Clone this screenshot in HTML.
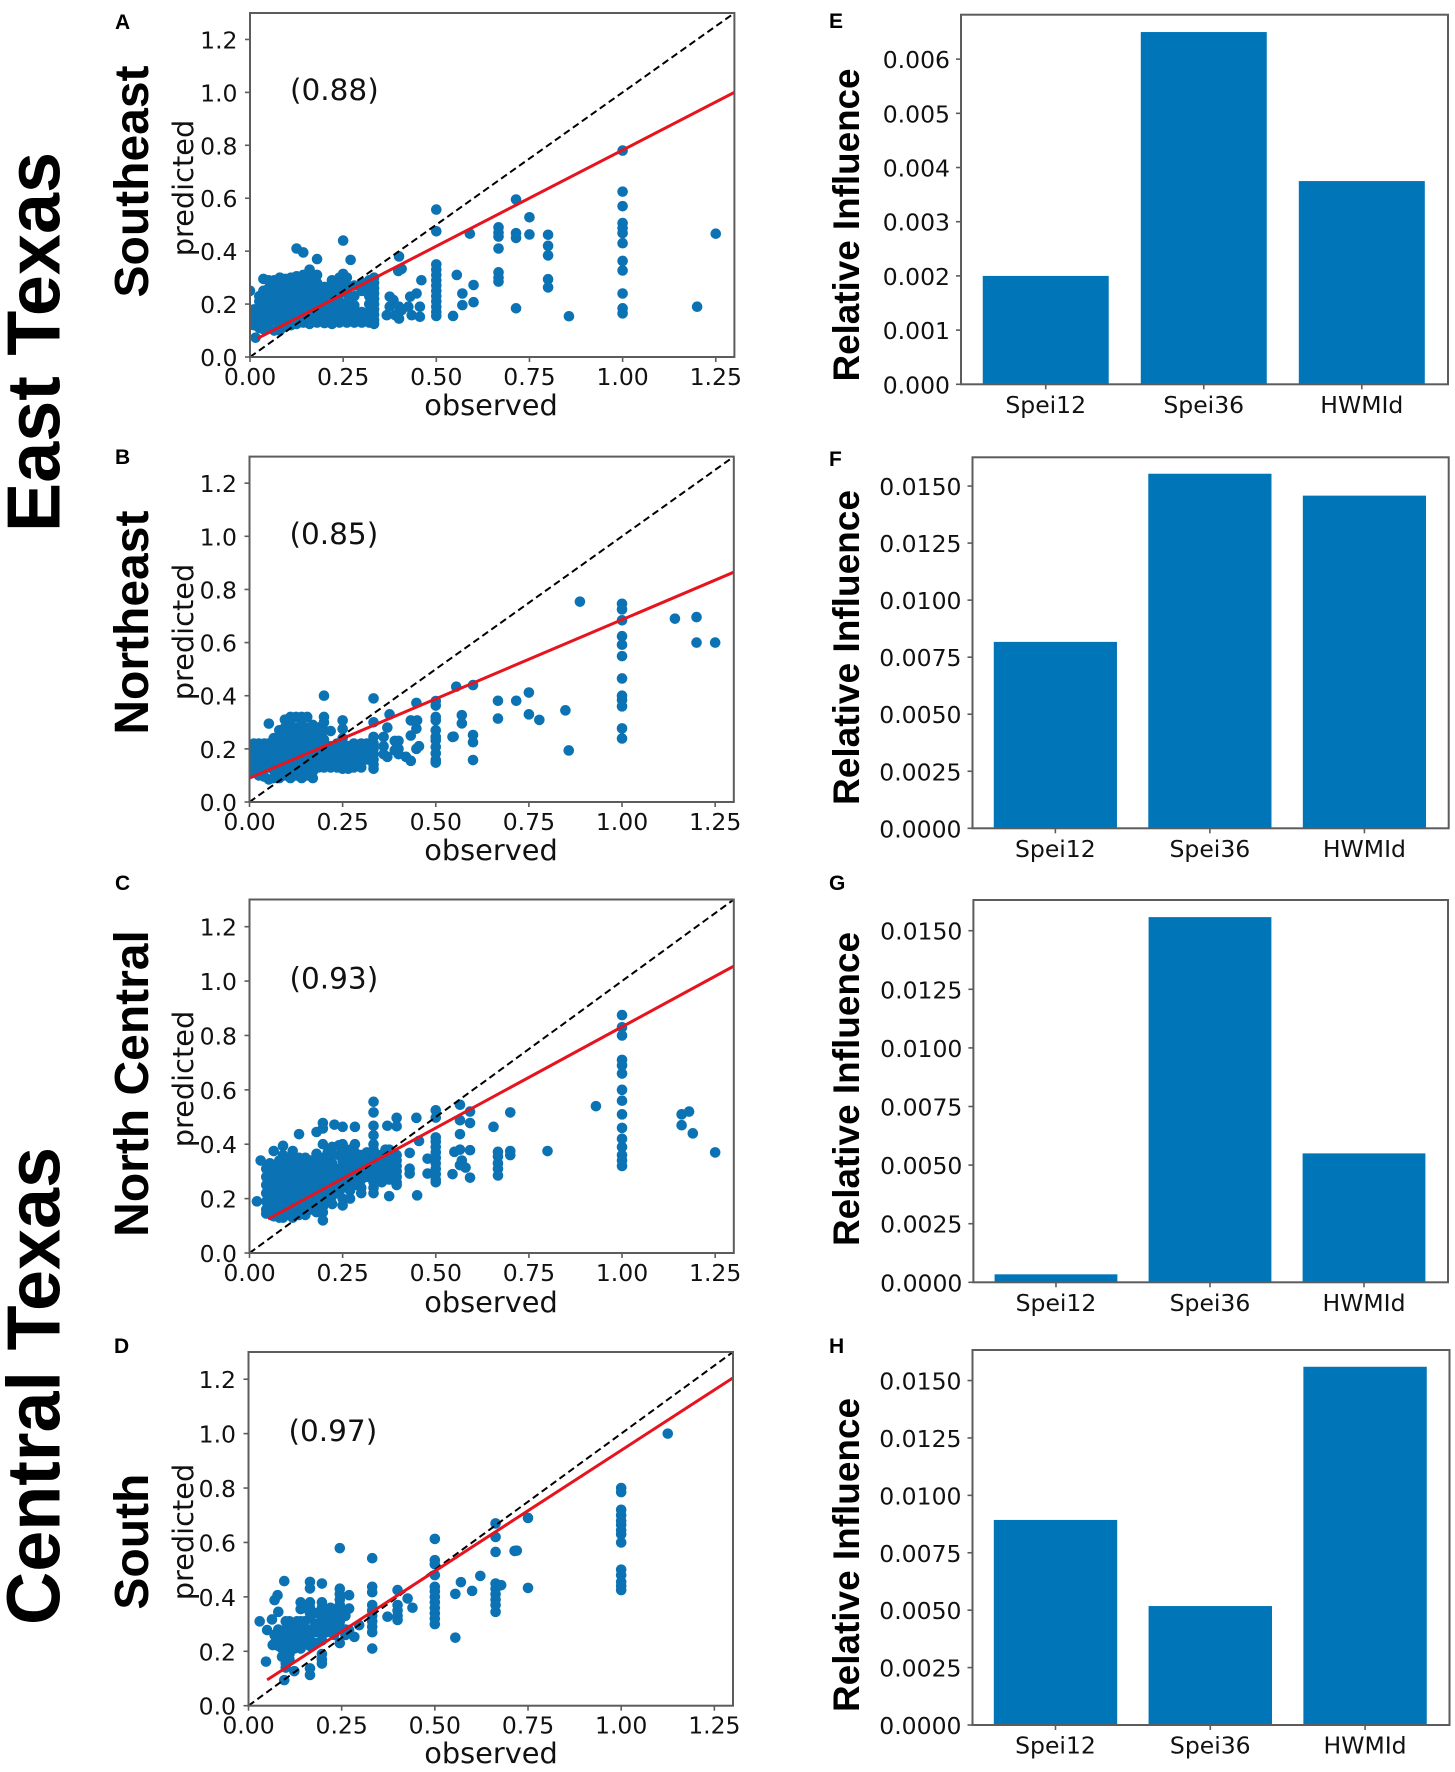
<!DOCTYPE html>
<html lang="en">
<head>
<meta charset="utf-8">
<title>Observed vs predicted and relative influence by Texas region</title>
<style>
html,body{margin:0;padding:0;background:#fff;}
svg{display:block;}
.region{font-family:"Liberation Sans",Arial,sans-serif;font-weight:700;fill:#000;}
.letter{font-family:"Liberation Sans",Arial,sans-serif;font-weight:700;font-size:21px;fill:#000;}
.axis-title{font-family:"DejaVu Sans",sans-serif;font-size:28.8px;fill:#111;}
.tick{font-family:"DejaVu Sans",sans-serif;font-size:23.5px;fill:#111;}
.note{font-family:"DejaVu Sans",sans-serif;font-size:29.5px;fill:#111;}
</style>
</head>
<body>
<svg id="fig" xmlns="http://www.w3.org/2000/svg" width="1455" height="1772" viewBox="0 0 1455 1772">
<rect x="0" y="0" width="1455" height="1772" fill="#fff"/>

<text class="region" font-size="75" transform="translate(59.5,342) rotate(-90)" text-anchor="middle" textLength="380" lengthAdjust="spacingAndGlyphs">East Texas</text>
<text class="region" font-size="75" transform="translate(59.5,1386) rotate(-90)" text-anchor="middle" textLength="478" lengthAdjust="spacingAndGlyphs">Central Texas</text>

<text class="region" font-size="48" transform="translate(148,181.5) rotate(-90)" text-anchor="middle">Southeast</text>
<text class="region" font-size="48" transform="translate(148,622.6) rotate(-90)" text-anchor="middle">Northeast</text>
<text class="region" font-size="48" transform="translate(148,1083.5) rotate(-90)" text-anchor="middle">North Central</text>
<text class="region" font-size="48" transform="translate(148,1541.6) rotate(-90)" text-anchor="middle">South</text>

<text class="letter" x="115" y="29">A</text>
<text class="letter" x="115" y="464">B</text>
<text class="letter" x="115" y="890">C</text>
<text class="letter" x="114" y="1353">D</text>
<text class="letter" x="829" y="28">E</text>
<text class="letter" x="829" y="466">F</text>
<text class="letter" x="829" y="890">G</text>
<text class="letter" x="829" y="1353">H</text>

<text class="axis-title" x="491" y="415" text-anchor="middle">observed</text>
<text class="axis-title" x="491" y="860" text-anchor="middle">observed</text>
<text class="axis-title" x="491" y="1312" text-anchor="middle">observed</text>
<text class="axis-title" x="491" y="1763" text-anchor="middle">observed</text>

<text class="axis-title" transform="translate(193,188) rotate(-90)" text-anchor="middle">predicted</text>
<text class="axis-title" transform="translate(193,632) rotate(-90)" text-anchor="middle">predicted</text>
<text class="axis-title" transform="translate(193,1079) rotate(-90)" text-anchor="middle">predicted</text>
<text class="axis-title" transform="translate(193,1532) rotate(-90)" text-anchor="middle">predicted</text>

<text class="region" font-size="37" transform="translate(859,225) rotate(-90)" text-anchor="middle" textLength="313" lengthAdjust="spacingAndGlyphs">Relative Influence</text>
<text class="region" font-size="37" transform="translate(859,647.5) rotate(-90)" text-anchor="middle" textLength="315" lengthAdjust="spacingAndGlyphs">Relative Influence</text>
<text class="region" font-size="37" transform="translate(859,1089) rotate(-90)" text-anchor="middle" textLength="314" lengthAdjust="spacingAndGlyphs">Relative Influence</text>
<text class="region" font-size="37" transform="translate(859,1555) rotate(-90)" text-anchor="middle" textLength="314" lengthAdjust="spacingAndGlyphs">Relative Influence</text>
</svg>

<script>
// ---------- shared tick data ----------
const scatterXTicks = [0, 0.25, 0.5, 0.75, 1.0, 1.25];
const scatterXLabels = ['0.00', '0.25', '0.50', '0.75', '1.00', '1.25'];
const scatterYTicks = [0, 0.2, 0.4, 0.6, 0.8, 1.0, 1.2];
const scatterYLabels = ['0.0', '0.2', '0.4', '0.6', '0.8', '1.0', '1.2'];
const barCategories = ['Spei12', 'Spei36', 'HWMId'];
const influenceTicksE = [0, 0.001, 0.002, 0.003, 0.004, 0.005, 0.006];
const influenceLabelsE = ['0.000', '0.001', '0.002', '0.003', '0.004', '0.005', '0.006'];
const influenceTicks = [0, 0.0025, 0.005, 0.0075, 0.01, 0.0125, 0.015];
const influenceLabels = ['0.0000', '0.0025', '0.0050', '0.0075', '0.0100', '0.0125', '0.0150'];

// ---------- bar values ----------
const influenceE = [0.0020, 0.0065, 0.00375];
const influenceF = [0.00817, 0.01554, 0.01458];
const influenceG = [0.00034, 0.01558, 0.0055];
const influenceH = [0.00893, 0.00518, 0.0156];

// ---------- regression fit end points ----------
const fitObsA = [0.02, 1.3];
const fitPredA = [0.07, 1.0];
const fitObsB = [0.0, 1.3];
const fitPredB = [0.09, 0.865];
const fitObsC = [0.05, 1.3];
const fitPredC = [0.125, 1.055];
const fitObsD = [0.05, 1.3];
const fitPredD = [0.095, 1.205];

// ---------- correlation notes ----------
const noteA = '(0.88)';
const noteB = '(0.85)';
const noteC = '(0.93)';
const noteD = '(0.97)';

// ---------- panel A scatter ----------
const obsA = [0, 0.01, 0.015, 0.025, 0.036, 0.05, 0.065, 0.08, 0.095, 0.11, 0.125, 0.143, 0.16, 0.18, 0.2, 0.22, 0.24, 0.25, 0.26, 0.27, 0.28, 0.3, 0.32, 0.333, 0.367, 0.375, 0.385, 0.39, 0.398, 0.4, 0.407, 0.425, 0.43, 0.434, 0.447, 0.456, 0.46, 0.5, 0.545, 0.555, 0.57, 0.59, 0.6, 0.667, 0.714, 0.75, 0.8, 0.856, 1.0, 1.2, 1.25];
const predA = [
[0.25,0.17,0.15,0.13],[0.18,0.16,0.14,0.12],[0.073],[0.23,0.21,0.19,0.17,0.15,0.13,0.11],
[0.295,0.25,0.22,0.19,0.16,0.13,0.105],[0.29,0.26,0.23,0.2,0.17,0.14,0.11],[0.29,0.26,0.23,0.2,0.17,0.14,0.1],
[0.3,0.27,0.24,0.21,0.18,0.15,0.12,0.1],[0.295,0.265,0.235,0.205,0.175,0.145,0.115],[0.3,0.27,0.24,0.21,0.18,0.15,0.12],
[0.41,0.305,0.275,0.245,0.215,0.185,0.155,0.125],[0.395,0.31,0.28,0.25,0.22,0.19,0.16,0.13],[0.33,0.3,0.27,0.24,0.21,0.18,0.15,0.125],
[0.37,0.31,0.28,0.25,0.22,0.19,0.16,0.13],[0.265,0.235,0.205,0.175,0.145,0.128],[0.29,0.26,0.23,0.2,0.17,0.14,0.125],
[0.3,0.27,0.24,0.21,0.18,0.15,0.13],[0.44,0.314],[0.3,0.27,0.24,0.205,0.175,0.145,0.13],[0.367],
[0.27,0.23,0.195,0.165,0.14,0.13],[0.28,0.25,0.17,0.15,0.13],[0.29,0.26,0.23,0.2,0.17,0.14,0.13],
[0.3,0.28,0.26,0.24,0.22,0.2,0.18,0.16,0.14,0.125],[0.158],[0.228,0.19],[0.215],[0.158],[0.325],[0.38,0.19,0.145],[0.333,0.177],
[0.19],[0.228],[0.158],[0.24],[0.19,0.152],[0.29],
[0.557,0.475,0.35,0.33,0.31,0.29,0.27,0.25,0.23,0.21,0.19,0.17,0.155],[0.155],[0.31],[0.24,0.196],[0.466],[0.272,0.207],
[0.49,0.47,0.455,0.41,0.32,0.3,0.285],[0.595,0.468,0.45,0.184],[0.528,0.463],[0.462,0.42,0.384,0.294,0.263],[0.154],
[0.78,0.625,0.57,0.506,0.487,0.468,0.43,0.363,0.327,0.24,0.184,0.165],[0.19],[0.466]
];

// ---------- panel B scatter ----------
const obsB = [0, 0.012, 0.025, 0.04, 0.052, 0.065, 0.08, 0.095, 0.11, 0.125, 0.14, 0.155, 0.17, 0.185, 0.2, 0.218, 0.235, 0.25, 0.265, 0.28, 0.3, 0.315, 0.333, 0.36, 0.37, 0.376, 0.39, 0.4, 0.42, 0.433, 0.448, 0.45, 0.455, 0.5, 0.545, 0.548, 0.555, 0.57, 0.6, 0.667, 0.716, 0.75, 0.778, 0.848, 0.857, 0.887, 1.0, 1.142, 1.2, 1.25];
const predB = [
[0.21,0.19,0.17,0.15,0.13,0.11],[0.22,0.19,0.16,0.13,0.11],[0.22,0.19,0.16,0.13,0.1],[0.22,0.19,0.16,0.13,0.095],
[0.295,0.22,0.19,0.16,0.13,0.085],[0.24,0.21,0.18,0.15,0.12,0.09],[0.27,0.24,0.21,0.18,0.15,0.12,0.09],
[0.31,0.28,0.25,0.22,0.19,0.16,0.13,0.1],[0.32,0.29,0.26,0.23,0.2,0.17,0.14,0.11,0.09],[0.32,0.28,0.25,0.22,0.19,0.16,0.13,0.1],
[0.32,0.29,0.26,0.23,0.2,0.17,0.14,0.11,0.09],[0.32,0.28,0.25,0.22,0.19,0.16,0.13,0.1],[0.29,0.26,0.23,0.2,0.17,0.14,0.115,0.09],
[0.28,0.25,0.22,0.19,0.16,0.13],[0.4,0.32,0.3,0.27,0.235,0.21,0.18,0.15,0.13],[0.267,0.21,0.18,0.15,0.13],[0.22,0.19,0.16,0.13],
[0.307,0.275,0.24,0.21,0.18,0.15,0.125],[0.21,0.18,0.15,0.125],[0.22,0.19,0.16,0.13],[0.22,0.19,0.16,0.13],[0.22,0.19,0.16],
[0.39,0.3,0.245,0.22,0.2,0.18,0.16,0.14,0.125],[0.245,0.21,0.18],[0.28,0.17],[0.33],[0.23,0.195],[0.23,0.2,0.18],[0.17],
[0.307,0.25,0.155],[0.373,0.276,0.2],[0.307],[0.21],
[0.38,0.363,0.32,0.307,0.27,0.245,0.232,0.207,0.183,0.158,0.148],[0.245],[0.246],[0.434],[0.327,0.296],[0.44,0.252,0.225,0.158],
[0.381,0.314],[0.381],[0.412,0.33],[0.309],[0.345],[0.194],[0.754],
[0.746,0.725,0.684,0.624,0.592,0.549,0.465,0.4,0.384,0.36,0.277,0.239],[0.69],[0.696,0.6],[0.6]
];

// ---------- panel C scatter ----------
const obsC = [0.02, 0.03, 0.045, 0.055, 0.065, 0.08, 0.09, 0.105, 0.116, 0.133, 0.15, 0.165, 0.18, 0.197, 0.21, 0.222, 0.228, 0.24, 0.25, 0.26, 0.27, 0.283, 0.3, 0.315, 0.333, 0.345, 0.355, 0.365, 0.37, 0.375, 0.385, 0.395, 0.43, 0.448, 0.45, 0.455, 0.478, 0.5, 0.545, 0.55, 0.565, 0.57, 0.58, 0.592, 0.655, 0.667, 0.7, 0.8, 0.93, 1.0, 1.16, 1.18, 1.19, 1.25];
const predC = [
[0.19],[0.34],[0.31,0.28,0.25,0.22,0.19,0.16,0.145],[0.33,0.3,0.27,0.24,0.21,0.18,0.15],[0.375,0.31,0.28,0.25,0.22,0.19,0.16,0.135],
[0.34,0.31,0.28,0.25,0.22,0.19,0.16,0.13],[0.394,0.36,0.33,0.3,0.27,0.24,0.21,0.18,0.15,0.13],[0.35,0.32,0.29,0.26,0.23,0.2,0.17,0.14],
[0.375,0.34,0.31,0.28,0.25,0.22,0.19,0.16,0.13],[0.437,0.35,0.32,0.29,0.26,0.23,0.2,0.17,0.14],[0.35,0.32,0.29,0.26,0.23,0.2,0.17,0.14],
[0.34,0.31,0.28,0.25,0.22,0.19,0.16],[0.445,0.365,0.33,0.3,0.27,0.24,0.21,0.18,0.15],
[0.478,0.458,0.4,0.35,0.32,0.29,0.26,0.23,0.2,0.17,0.15,0.12],[0.37,0.34,0.31,0.28,0.25,0.22,0.19],[0.39,0.36,0.33,0.3,0.27,0.24,0.21,0.18],[0.472],
[0.396,0.36,0.31,0.28,0.25,0.22],[0.464,0.4,0.37,0.34,0.3,0.27,0.24,0.2,0.175],[0.36,0.33,0.3,0.27,0.24],[0.38,0.33,0.29,0.26,0.23,0.2],
[0.464,0.4,0.37,0.34,0.31,0.28,0.25],[0.36,0.33,0.3,0.27,0.24,0.22],[0.37,0.34,0.31,0.28],
[0.556,0.517,0.468,0.433,0.4,0.38,0.36,0.34,0.32,0.3,0.28,0.26,0.24,0.22],[0.36,0.33],[0.36,0.33,0.3,0.28,0.26],[0.38,0.31,0.28],[0.468],[0.38,0.35,0.32,0.29,0.27,0.209],[0.36,0.3,0.27],
[0.497,0.466,0.36,0.34,0.32,0.3,0.28,0.26,0.25],[0.368,0.31,0.292],[0.497],[0.212],[0.412],[0.347,0.292],
[0.525,0.498,0.425,0.41,0.39,0.37,0.35,0.33,0.31,0.29,0.27,0.26],[0.29],[0.372],[0.545,0.488,0.437,0.38,0.323],[0.34],[0.314],
[0.52,0.478,0.378,0.277],[0.464],[0.372,0.355,0.33,0.31,0.285],[0.517,0.375,0.36],[0.375],[0.54],
[0.875,0.83,0.8,0.71,0.69,0.66,0.6,0.56,0.51,0.46,0.42,0.39,0.36,0.34,0.32],[0.51,0.47],[0.52],[0.44],[0.37]
];

// ---------- panel D scatter ----------
const obsD = [0.03, 0.047, 0.05, 0.063, 0.065, 0.07, 0.078, 0.08, 0.085, 0.09, 0.096, 0.1, 0.105, 0.11, 0.115, 0.123, 0.13, 0.14, 0.15, 0.165, 0.18, 0.197, 0.21, 0.22, 0.23, 0.245, 0.26, 0.27, 0.284, 0.297, 0.332, 0.373, 0.4, 0.427, 0.44, 0.5, 0.555, 0.57, 0.6, 0.622, 0.663, 0.678, 0.714, 0.72, 0.75, 1.0, 1.125];
const predD = [
[0.31],[0.162],[0.278],[0.317],[0.223],[0.388,0.26,0.23],[0.406],[0.345,0.28,0.25,0.22],[0.27,0.24],[0.26,0.24,0.21,0.18],[0.458,0.094],
[0.31,0.28,0.26,0.24,0.2,0.18,0.155,0.14],[0.3,0.25,0.22],[0.31,0.29,0.27,0.25,0.21,0.19,0.17],[0.29,0.26,0.23],[0.3,0.27,0.25,0.23,0.21,0.127],[0.31,0.28,0.24],[0.38,0.355,0.31,0.29,0.27,0.25,0.23,0.21],[0.36,0.31,0.27,0.24],
[0.455,0.431,0.38,0.36,0.34,0.32,0.28,0.26,0.24,0.22,0.137,0.113],[0.34,0.3,0.27,0.23],[0.449,0.38,0.36,0.34,0.32,0.3,0.28,0.26,0.24,0.19,0.17,0.155],[0.35,0.31,0.27],[0.36,0.33,0.31,0.29],[0.33,0.29,0.26],
[0.579,0.43,0.41,0.39,0.37,0.35,0.33,0.31,0.29,0.23],[0.33,0.28,0.26],[0.406,0.357,0.278],[0.253],[0.296],
[0.542,0.437,0.417,0.37,0.35,0.33,0.31,0.29,0.27,0.21],[0.327],[0.425,0.37,0.35,0.33,0.315],[0.394],[0.36],
[0.613,0.535,0.52,0.48,0.437,0.42,0.4,0.38,0.36,0.34,0.32,0.3],[0.411,0.25],[0.454],[0.422],[0.477],
[0.67,0.62,0.565,0.449,0.43,0.41,0.39,0.37,0.345],[0.443],[0.569],[0.57],[0.69,0.433],
[0.8,0.785,0.72,0.7,0.68,0.665,0.645,0.63,0.6,0.5,0.48,0.455,0.44,0.425],[1.0]
];

// ---------- drawing ----------
const NS = 'http://www.w3.org/2000/svg';
const svg = document.getElementById('fig');
const FRAME = '#5c5c5c';
const DOT = '#0b72b4';
const BAR = '#0075b7';
function linear(d0, d1, r0, r1) {
  return function (v) { return r0 + (v - d0) * (r1 - r0) / (d1 - d0); };
}
function make(parent, tag, attrs) {
  const el = document.createElementNS(NS, tag);
  for (const k in attrs) el.setAttribute(k, attrs[k]);
  parent.appendChild(el);
  return el;
}
function drawFrame(g, box) {
  const frame = make(g, 'rect', {x: box.left, y: box.top, width: box.right - box.left, height: box.bottom - box.top, fill: 'none', stroke: FRAME, 'stroke-width': 2});
  
  
}
function drawYAxis(g, box, y, ticks, labels) {
  ticks.forEach(function (t, i) {
    const py = y(t);
    const tick = make(g, 'line', {x1: box.left - 5, x2: box.left, y1: py, y2: py, stroke: FRAME, 'stroke-width': 1.6});
    
    
    const label = make(g, 'text', {x: box.left - box.labelGap, y: py + box.labelDrop, 'text-anchor': 'end', class: 'tick'});
    label.textContent = labels[i];
    
    
  });
}
function drawScatter(id, box, obs, pred, fitObs, fitPred, note) {
  const x = linear(0, 1.3, box.left, box.right);
  const y = linear(0, 1.3, box.bottom, box.top);
  const g = make(svg, 'g', {});
  
  
  const clip = make(g, 'clipPath', {id: 'clip-' + id});
  make(clip, 'rect', {x: box.left, y: box.top, width: box.right - box.left, height: box.bottom - box.top});
  const plot = make(g, 'g', {'clip-path': 'url(#clip-' + id + ')'});
  
  
  obs.forEach(function (o, i) {
    pred[i].forEach(function (p) {
      const dot = make(plot, 'circle', {cx: x(o), cy: y(p), r: 5.3, fill: DOT});
      
      
    });
  });
  const identity = make(plot, 'line', {x1: x(0), y1: y(0), x2: x(1.3), y2: y(1.3), stroke: '#000', 'stroke-width': 2, 'stroke-dasharray': '7 4'});
  
  
  const fit = make(plot, 'line', {x1: x(fitObs[0]), y1: y(fitPred[0]), x2: x(fitObs[1]), y2: y(fitPred[1]), stroke: '#e6141e', 'stroke-width': 3});
  
  
  drawFrame(g, box);
  scatterXTicks.forEach(function (t, i) {
    const px = x(t);
    const tick = make(g, 'line', {x1: px, x2: px, y1: box.bottom, y2: box.bottom + 5, stroke: FRAME, 'stroke-width': 1.6});
    
    
    const label = make(g, 'text', {x: px, y: box.bottom + 28, 'text-anchor': 'middle', class: 'tick'});
    label.textContent = scatterXLabels[i];
    
    
  });
  drawYAxis(g, box, y, scatterYTicks, scatterYLabels);
  const r = make(g, 'text', {x: box.left + 40, y: y(1.0) + 7.5, class: 'note'});
  r.textContent = note;
  
  
}
function drawBars(id, box, values, ticks, labels) {
  const y = linear(0, box.maxValue, box.bottom, box.top);
  const w = box.right - box.left;
  const barW = w * 0.2587;
  const x0 = box.left + w * 0.174;
  const step = w * 0.3245;
  const g = make(svg, 'g', {});
  
  
  values.forEach(function (v, i) {
    const cx = x0 + i * step;
    const bar = make(g, 'rect', {x: cx - barW / 2, y: y(v), width: barW, height: box.bottom - y(v), fill: BAR});
    
    
    const tick = make(g, 'line', {x1: cx, x2: cx, y1: box.bottom, y2: box.bottom + 5, stroke: FRAME, 'stroke-width': 1.6});
    
    
    const label = make(g, 'text', {x: cx, y: box.bottom + 28.5, 'text-anchor': 'middle', class: 'tick'});
    label.textContent = barCategories[i];
    
    
  });
  drawFrame(g, box);
  drawYAxis(g, box, y, ticks, labels);
}

drawScatter('a', {left: 250, right: 734.4, top: 13, bottom: 357, labelGap: 12.5, labelDrop: 9}, obsA, predA, fitObsA, fitPredA, noteA);
drawScatter('b', {left: 249.5, right: 733.8, top: 456.6, bottom: 802, labelGap: 12.5, labelDrop: 9}, obsB, predB, fitObsB, fitPredB, noteB);
drawScatter('c', {left: 249.5, right: 733.8, top: 899.5, bottom: 1253, labelGap: 12.5, labelDrop: 9}, obsC, predC, fitObsC, fitPredC, noteC);
drawScatter('d', {left: 248.5, right: 733, top: 1352, bottom: 1705.7, labelGap: 12.5, labelDrop: 9}, obsD, predD, fitObsD, fitPredD, noteD);

drawBars('e', {left: 961, right: 1448, top: 14.7, bottom: 384.3, maxValue: 0.00682, labelGap: 11, labelDrop: 9}, influenceE, influenceTicksE, influenceLabelsE);
drawBars('f', {left: 972.5, right: 1448.7, top: 457.3, bottom: 828.3, maxValue: 0.01626, labelGap: 11, labelDrop: 9}, influenceF, influenceTicks, influenceLabels);
drawBars('g', {left: 973.4, right: 1448, top: 900, bottom: 1282.3, maxValue: 0.01631, labelGap: 11, labelDrop: 9}, influenceG, influenceTicks, influenceLabels);
drawBars('h', {left: 972.5, right: 1449.5, top: 1350, bottom: 1725, maxValue: 0.01633, labelGap: 11, labelDrop: 9}, influenceH, influenceTicks, influenceLabels);
</script>
</body>
</html>
